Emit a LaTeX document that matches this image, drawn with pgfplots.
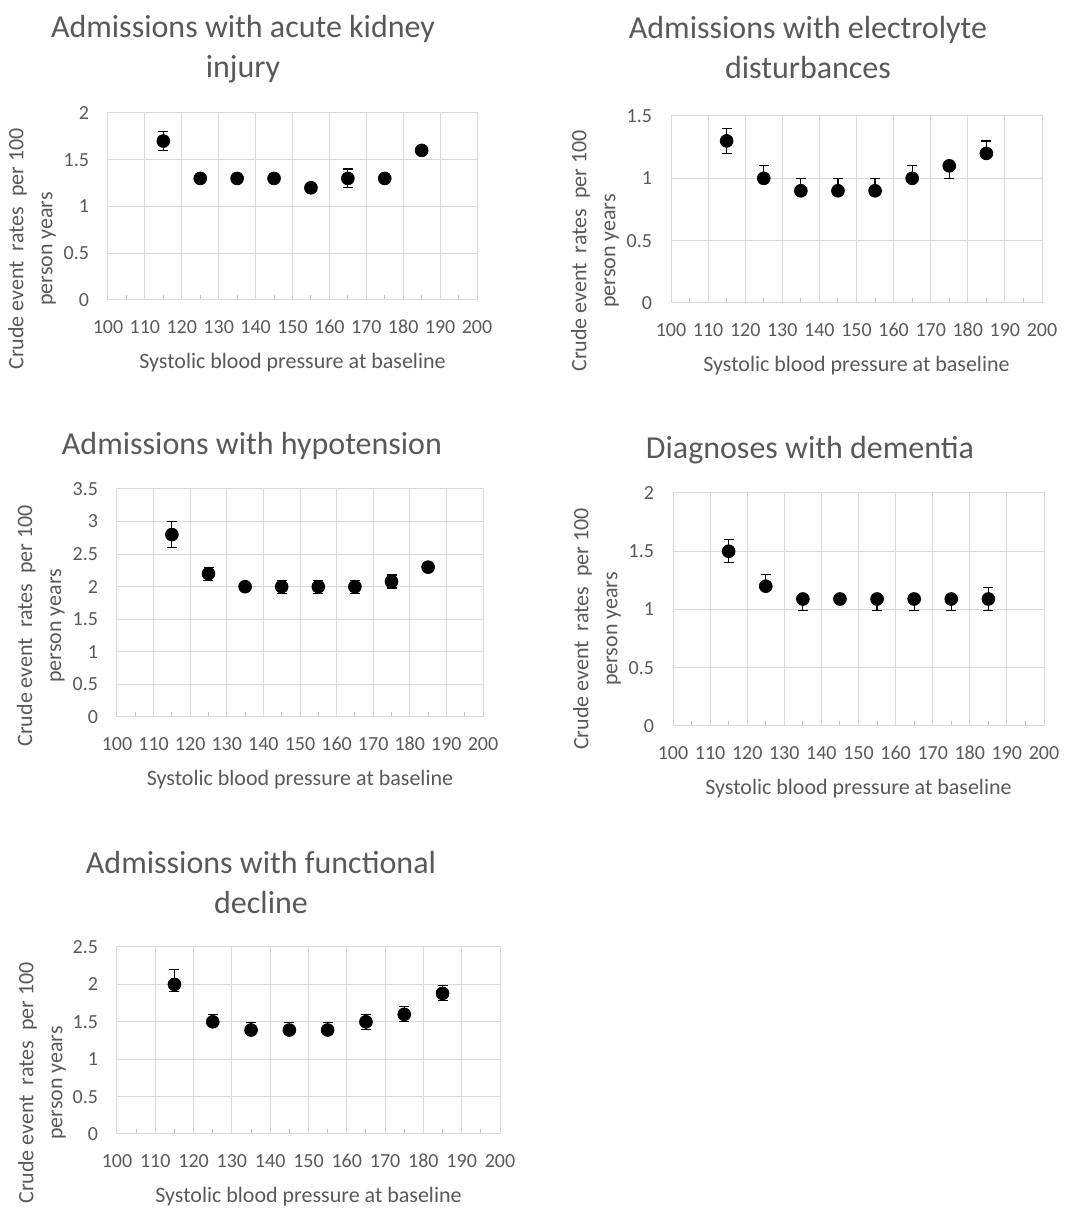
\documentclass[border=0pt]{standalone}
\usepackage{pgfplots}
\pgfplotsset{compat=1.18}
\usepackage{fontspec}
\setmainfont{Carlito}
\definecolor{txt}{RGB}{89,89,89}
\definecolor{grd}{RGB}{217,217,217}
\definecolor{tck}{RGB}{191,191,191}
\pgfplotsset{
  panel/.style={
    scale only axis, anchor=south west,
    xmin=100, xmax=200, xtick={100,110,...,200},
    minor xtick={105,115,...,195},
    ymin=0, ytick distance=0.5,
    grid=major, major grid style={draw=grd, line width=0.5pt},
    axis line style={draw=grd, line width=0.5pt},
    xtick pos=lower, ytick pos=lower, tick align=inside,
    major tick length=0pt, minor tick length=2.5pt,
    minor tick style={draw=tck, line width=0.5pt},
    /pgf/number format/assume math mode=true,
    tick label style={font=\fontsize{10}{12}\selectfont, text=txt},
    xticklabel style={anchor=center, yshift=-13.5pt},
    yticklabel style={anchor=east, xshift=-6pt},
    xlabel={Systolic blood pressure at baseline},
    xlabel style={at={(axis description cs:0.5,0)}, anchor=center, yshift=-31.5pt,
      font=\fontsize{11}{13}\selectfont, text=txt},
    ylabel={Crude event~ rates~ per 100\\person years},
    ylabel style={anchor=center, align=center, font=\fontsize{11}{14.5}\selectfont, text=txt},
    title style={anchor=center, align=center, font=\fontsize{16}{20}\selectfont, text=txt},
  },
  pts/.style={only marks, mark=*, mark size=3.2pt, mark options={draw=black, fill=black},
    error bars/.cd, y dir=both, y explicit,
    error bar style={draw=black, line width=0.6pt},
    error mark options={rotate=90, draw=black, mark size=2.5pt, line width=0.6pt}},
}
\begin{document}
\begin{tikzpicture}
\path[use as bounding box] (0pt,0pt) rectangle (540pt,604.5pt);
% Panel 1
\begin{axis}[panel, at={(54pt,454.5pt)}, width=184.5pt, height=93.5pt, ymax=2,
  title={Admissions with acute kidney\\injury},
  title style={at={(axis description cs:0,1)}, xshift=67.5pt, yshift=26pt},
  ylabel style={at={(axis description cs:-0.206,0.273)}}]
\addplot+[pts] table[x=x, y=y, y error plus=ep, y error minus=em] {
x y ep em
115 1.7 0.1 0.1
125 1.3 0.02 0.02
135 1.3 0.02 0.02
145 1.3 0.02 0.02
155 1.2 0.02 0.02
165 1.3 0.1 0.1
175 1.3 0.02 0.02
185 1.6 0.02 0.02
};
\end{axis}
% Panel 2
\begin{axis}[panel, at={(335.5pt,453pt)}, width=185.5pt, height=93.5pt, ymax=1.5,
  title={Admissions with electrolyte\\disturbances},
  title style={at={(axis description cs:0,1)}, xshift=68.5pt, yshift=28pt},
  ylabel style={at={(axis description cs:-0.205,0.278)}}]
\addplot+[pts] table[x=x, y=y, y error plus=ep, y error minus=em] {
x y ep em
115 1.3 0.1 0.1
125 1.0 0.1 0
135 0.9 0.1 0
145 0.9 0.1 0
155 0.9 0.1 0
165 1.0 0.1 0
175 1.1 0 0.1
185 1.2 0.1 0
};
\end{axis}
% Panel 3
\begin{axis}[panel, at={(58.5pt,246pt)}, width=183pt, height=114pt, ymax=3.5,
  title={Admissions with hypotension},
  title style={at={(axis description cs:0,1)}, xshift=67.5pt, yshift=15.5pt},
  ylabel style={at={(axis description cs:-0.208,0.40)}}]
\addplot+[pts] table[x=x, y=y, y error plus=ep, y error minus=em] {
x y ep em
115 2.8 0.2 0.2
125 2.2 0.1 0.1
135 2.0 0.05 0.05
145 2.0 0.1 0.1
155 2.0 0.1 0.1
165 2.0 0.1 0.1
175 2.08 0.1 0.1
185 2.3 0.07 0.07
};
\end{axis}
% Panel 4
\begin{axis}[panel, at={(336.5pt,241.5pt)}, width=185.5pt, height=116.5pt, ymax=2,
  title={Diagnoses with dementia},
  title style={at={(axis description cs:0,1)}, xshift=68.5pt, yshift=15.5pt},
  ylabel style={at={(axis description cs:-0.205,0.416)}}]
\addplot+[pts] table[x=x, y=y, y error plus=ep, y error minus=em] {
x y ep em
115 1.5 0.1 0.1
125 1.2 0.1 0
135 1.09 0 0.1
145 1.09 0 0
155 1.09 0 0.1
165 1.09 0 0.1
175 1.09 0 0.1
185 1.09 0.1 0.1
};
\end{axis}
% Panel 5
\begin{axis}[panel, at={(58.5pt,37.5pt)}, width=191.5pt, height=93.5pt, ymax=2.5,
  title={Admissions with functional\\decline},
  title style={at={(axis description cs:0,1)}, xshift=72pt, yshift=26pt},
  ylabel style={at={(axis description cs:-0.196,0.273)}}]
\addplot+[pts] table[x=x, y=y, y error plus=ep, y error minus=em] {
x y ep em
115 2.0 0.2 0.1
125 1.5 0.1 0
135 1.39 0.1 0
145 1.39 0.1 0
155 1.39 0.1 0
165 1.5 0.1 0.1
175 1.6 0.1 0.1
185 1.88 0.1 0.1
};
\end{axis}
\end{tikzpicture}
\end{document}
